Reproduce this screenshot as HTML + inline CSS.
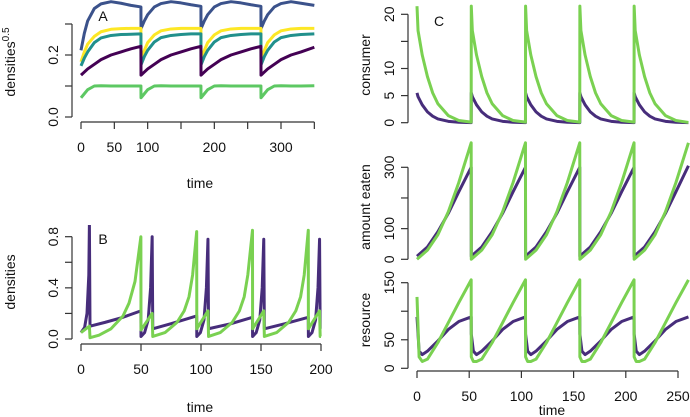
<!DOCTYPE html>
<html><head><meta charset="utf-8"><style>
body{margin:0;background:#fff}
svg{display:block;font-family:"Liberation Sans",Arial,sans-serif}
</style></head><body>
<svg id="chart" width="690" height="417" viewBox="0 0 690 417" xmlns="http://www.w3.org/2000/svg">
<defs>
<clipPath id="clipA"><rect x="73" y="0" width="250" height="118"/></clipPath>
<clipPath id="clipB"><rect x="73" y="225" width="252" height="117"/></clipPath>
<clipPath id="clipC"><rect x="409" y="0" width="281" height="370"/></clipPath>
</defs>
<g id="g" stroke-linejoin="round" stroke-linecap="butt"></g>
</svg>
<script>
// ---- Panel A data ----
const aTimes=[0,5,10,20,30,45,60,75,89.9, 90,95,100,110,120,135,150,165,179.9, 180,185,190,200,210,225,240,255,269.9, 270,275,280,290,300,315,330,350];
const aBlue=[0.215,0.27,0.31,0.35,0.365,0.372,0.367,0.36,0.355, 0.285,0.31,0.33,0.355,0.366,0.372,0.368,0.362,0.357, 0.285,0.31,0.33,0.355,0.366,0.372,0.368,0.362,0.357, 0.285,0.31,0.33,0.355,0.366,0.372,0.367,0.36];
const aYellow=[0.178,0.21,0.235,0.26,0.275,0.283,0.285,0.286,0.286, 0.18,0.215,0.24,0.265,0.278,0.284,0.286,0.286,0.286, 0.18,0.215,0.24,0.265,0.278,0.284,0.286,0.286,0.286, 0.18,0.215,0.24,0.265,0.278,0.284,0.286,0.286];
const aTeal=[0.165,0.19,0.21,0.24,0.255,0.263,0.266,0.267,0.268, 0.168,0.195,0.215,0.242,0.256,0.263,0.266,0.268,0.268, 0.168,0.195,0.215,0.242,0.256,0.263,0.266,0.268,0.268, 0.168,0.195,0.215,0.242,0.256,0.263,0.266,0.268];
const aPurple=[0.135,0.145,0.155,0.17,0.185,0.2,0.21,0.22,0.228, 0.135,0.145,0.155,0.17,0.185,0.2,0.21,0.22,0.228, 0.135,0.145,0.155,0.17,0.185,0.2,0.21,0.22,0.228, 0.135,0.145,0.155,0.17,0.185,0.2,0.21,0.225];
const aGreen=[0.062,0.075,0.088,0.1,0.101,0.1,0.1,0.1,0.1, 0.062,0.075,0.088,0.1,0.101,0.1,0.1,0.1,0.1, 0.062,0.075,0.088,0.1,0.101,0.1,0.1,0.1,0.1, 0.062,0.075,0.088,0.1,0.101,0.1,0.1,0.101];
const aXTicks=[0,50,100,150,200,250,300,350];
const aXLabels=["0","50","100","","200","","300",""];
const aYTicks=[0,0.1,0.2,0.3];
const aYLabels=["0.0","","0.2",""];
// ---- Panel B data ----
const bPurpleT=[0,3,5,6.5,7,7.5,20,35,49.9,50,53,56,58,59.3,59.8,75,96.4,96.5,99.5,102.5,104.5,105.8,106.3,125,142.9,143,146,149,151,152.3,152.8,170,189.4,189.5,192.5,195.5,197.5,198.8,199.3,200];
const bPurple=[0.05,0.09,0.2,0.5,0.9,0.1,0.13,0.17,0.22,0.02,0.05,0.15,0.4,0.8,0.08,0.12,0.18,0.02,0.05,0.15,0.4,0.78,0.08,0.12,0.17,0.02,0.05,0.15,0.4,0.78,0.08,0.12,0.17,0.02,0.05,0.15,0.4,0.78,0.08,0.08];
const bGreenT=[0,7,7.5,15,25,35,40,45,49.9,50,59.3,59.8,70,80,86,90,93,96.4,96.5,105.8,106.3,116,126,132,136,139,142.9,143,152.3,152.8,163,173,179,183,186,189.4,189.5,198.8,199.3,200];
const bGreen=[0.05,0.1,0.01,0.03,0.08,0.18,0.28,0.45,0.8,0.07,0.2,0.02,0.05,0.13,0.22,0.33,0.5,0.84,0.08,0.22,0.02,0.05,0.13,0.22,0.33,0.5,0.85,0.08,0.22,0.02,0.05,0.13,0.22,0.33,0.5,0.85,0.08,0.22,0.02,0.02];
const bXTicks=[0,50,100,150,200];
const bYTicks=[0,0.2,0.4,0.6,0.8];
const bYLabels=["0.0","","0.4","","0.8"];
// ---- Panel C data ----
const cConsT=[0,1,5,10,15,20,30,40,51.9,52,53,57,62,67,72,82,92,103.9,104,105,109,114,119,124,134,144,155.9,156,157,161,166,171,176,186,196,207.9,208,209,213,218,223,228,238,248,260];
const cConsGreen=[21.5,17,12.5,8.5,5.5,3.5,1.3,0.4,0.1,21.5,17,12.5,8.5,5.5,3.5,1.3,0.4,0.1,21.5,17,12.5,8.5,5.5,3.5,1.3,0.4,0.1,21.5,17,12.5,8.5,5.5,3.5,1.3,0.4,0.1,21.5,17,12.5,8.5,5.5,3.5,1.3,0.4,0.05];
const cConsPurple=[5.5,4.8,3.3,2,1.2,0.7,0.25,0.08,0.02,5.5,4.8,3.3,2,1.2,0.7,0.25,0.08,0.02,5.5,4.8,3.3,2,1.2,0.7,0.25,0.08,0.02,5.5,4.8,3.3,2,1.2,0.7,0.25,0.08,0.02,5.5,4.8,3.3,2,1.2,0.7,0.25,0.08,0.02];
const cEatT=[0,10,20,30,40,51.9,52,62,72,82,92,103.9,104,114,124,134,144,155.9,156,166,176,186,196,207.9,208,218,228,238,248,260];
const cEatGreen=[0,30,80,155,250,380,0,30,80,155,250,380,0,30,80,155,250,380,0,30,80,155,250,380,0,30,80,155,250,380];
const cEatPurple=[10,40,90,150,220,300,10,40,90,150,220,300,10,40,90,150,220,300,10,40,90,150,220,300,10,40,90,150,220,305];
const cResT=[0,2,5,10,20,30,40,51.9,52,54,57,62,72,82,92,103.9,104,106,109,114,124,134,144,155.9,156,158,161,166,176,186,196,207.9,208,210,213,218,228,238,248,260];
const cResGreen=[125,20,12,16,45,80,115,155,20,12,12,16,45,80,115,155,20,12,12,16,45,80,115,155,20,12,12,16,45,80,115,155,20,12,12,16,45,80,115,155];
const cResPurple=[90,30,24,30,48,68,82,90,60,30,24,30,48,68,82,90,60,30,24,30,48,68,82,90,60,30,24,30,48,68,82,90,60,30,24,30,48,68,82,90];
const cXTicks=[0,50,100,150,200,250];
const cConsTicks=[0,5,10,15,20];
const cConsLabels=["0","5","10","","20"];
const cEatTicks=[0,100,200,300];
const cEatLabels=["0","100","","300"];
const cResTicks=[0,50,100,150];
const cResLabels=["0","50","","150"];

const NS="http://www.w3.org/2000/svg";
const G=document.getElementById('g');
function mk(tag,attrs,parent,txt){const e=document.createElementNS(NS,tag);for(const k in attrs)e.setAttribute(k,attrs[k]);if(txt!==undefined)e.textContent=txt;(parent||G).appendChild(e);return e;}
function lin(d0,d1,r0,r1){return v=>r0+(v-d0)*(r1-r0)/(d1-d0);}
function series(ts,vs,xs,ys,color,clip,name){
  const pts=ts.map((t,i)=>xs(t).toFixed(2)+','+ys(vs[i]).toFixed(2)).join(' ');
  const p=mk('polyline',{points:pts,fill:'none',stroke:color,'stroke-width':3,'clip-path':'url(#'+clip+')'});
  
  
}
function xaxis(ticks,labels,xs,y,name){
  const g=mk('g',{});
  
  
  mk('line',{x1:xs(ticks[0]),x2:xs(ticks[ticks.length-1]),y1:y,y2:y,stroke:'#333','stroke-width':1.2},g);
  ticks.forEach((t,i)=>{mk('line',{x1:xs(t),x2:xs(t),y1:y,y2:y+7,stroke:'#333','stroke-width':1.2},g);
    if(labels[i])mk('text',{x:xs(t),y:y+30,'text-anchor':'middle','font-size':14,fill:'#111'},g,labels[i]);});
}
function yaxis(ticks,labels,ys,x,name){
  const g=mk('g',{});
  
  
  mk('line',{x1:x,x2:x,y1:ys(ticks[0]),y2:ys(ticks[ticks.length-1]),stroke:'#333','stroke-width':1.2},g);
  ticks.forEach((t,i)=>{mk('line',{x1:x-7,x2:x,y1:ys(t),y2:ys(t),stroke:'#333','stroke-width':1.2},g);
    if(labels[i]){const yy=ys(t),xx=x-14;mk('text',{x:xx,y:yy,'text-anchor':'middle','font-size':14,fill:'#111',transform:'rotate(-90 '+xx+' '+yy+')'},g,labels[i]);}});
}
function label(x,y,txt,rot,name,size){
  const t=mk('text',{x:x,y:y,'text-anchor':'middle','font-size':size||14,fill:'#111',transform:rot?'rotate(-90 '+x+' '+y+')':''},G,txt);
  
  
  return t;
}
// Panel A
const axA=lin(0,300,81,281), ayA=lin(0,0.3,117,24);
xaxis(aXTicks,aXLabels,axA,122,'panel-a-x-axis');
yaxis(aYTicks,aYLabels,ayA,72,'panel-a-y-axis');
series(aTimes,aBlue,axA,ayA,'#3B528B','clipA','panel-a-blue-line');
series(aTimes,aYellow,axA,ayA,'#FDE725','clipA','panel-a-yellow-line');
series(aTimes,aTeal,axA,ayA,'#21908C','clipA','panel-a-teal-line');
series(aTimes,aPurple,axA,ayA,'#440154','clipA','panel-a-purple-line');
series(aTimes,aGreen,axA,ayA,'#5DC863','clipA','panel-a-green-line');
label(103,21,'A',false,'panel-a-label');
label(200,188,'time',false,'panel-a-x-title');
{const t=label(15,62,'densities',true,'panel-a-y-title');const s=mk('tspan',{dy:-6,'font-size':10},t,'0.5');}
// Panel B
const axB=lin(0,200,81,321), ayB=lin(0,0.8,339,236.7);
xaxis(bXTicks,bXTicks.map(String),axB,344,'panel-b-x-axis');
yaxis(bYTicks,bYLabels,ayB,72,'panel-b-y-axis');
series(bPurpleT,bPurple,axB,ayB,'#472D7B','clipB','panel-b-purple-line');
series(bGreenT,bGreen,axB,ayB,'#7AD151','clipB','panel-b-green-line');
label(103,244,'B',false,'panel-b-label');
label(200,412,'time',false,'panel-b-x-title');
label(15,282,'densities',true,'panel-b-y-title');
// Panel C
const axC=lin(0,250,417,678);
const ayC1=lin(0,20,122.7,14.3), ayC2=lin(0,300,259.3,167.3), ayC3=lin(0,150,368.3,282.7);
xaxis(cXTicks,cXTicks.map(String),axC,371,'panel-c-x-axis');
yaxis(cConsTicks,cConsLabels,ayC1,408,'consumer-y-axis');
yaxis(cEatTicks,cEatLabels,ayC2,408,'amount-eaten-y-axis');
yaxis(cResTicks,cResLabels,ayC3,408,'resource-y-axis');
series(cConsT,cConsPurple,axC,ayC1,'#472D7B','clipC','consumer-purple-line');
series(cConsT,cConsGreen,axC,ayC1,'#7AD151','clipC','consumer-green-line');
series(cEatT,cEatPurple,axC,ayC2,'#472D7B','clipC','amount-eaten-purple-line');
series(cEatT,cEatGreen,axC,ayC2,'#7AD151','clipC','amount-eaten-green-line');
series(cResT,cResPurple,axC,ayC3,'#472D7B','clipC','resource-purple-line');
series(cResT,cResGreen,axC,ayC3,'#7AD151','clipC','resource-green-line');
label(439,26,'C',false,'panel-c-label');
label(552,415,'time',false,'panel-c-x-title');
label(370,65,'consumer',true,'consumer-y-title');
label(370,207,'amount eaten',true,'amount-eaten-y-title');
label(370,320,'resource',true,'resource-y-title');
</script>
</body></html>
